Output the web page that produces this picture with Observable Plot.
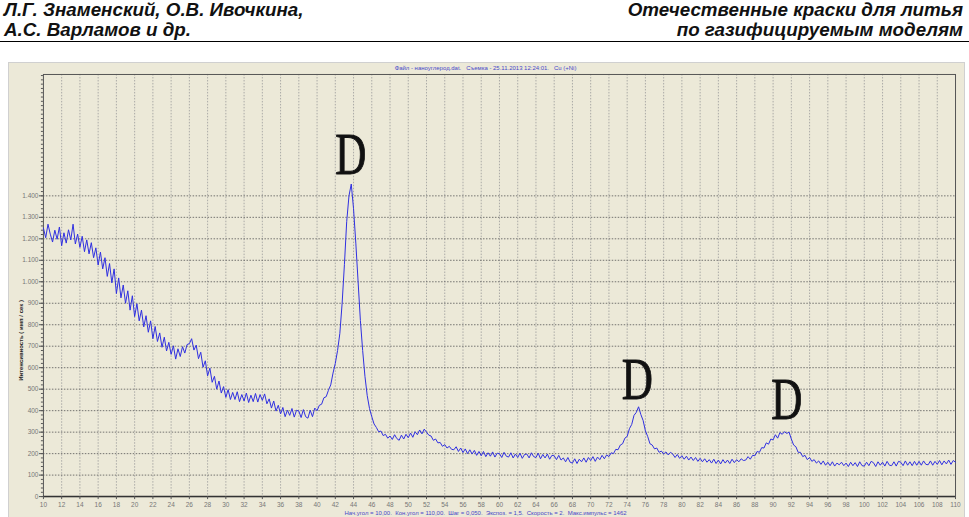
<!DOCTYPE html>
<html>
<head>
<meta charset="utf-8">
<script src="https://cdn.jsdelivr.net/npm/d3@7"></script>
<script src="https://cdn.jsdelivr.net/npm/@observablehq/plot@0.6"></script>
<style>
  html, body { margin: 0; padding: 0; background: #fff; width: 969px; height: 517px; overflow: hidden; position: relative; }
  .hdr { position: absolute; font-family: "Liberation Sans", Arial, sans-serif; font-style: italic; font-weight: bold; font-size: 18.8px; color: #111; line-height: 20px; white-space: nowrap; }
  #rule { position: absolute; left: 0; top: 41px; width: 969px; height: 0; border-top: 1.5px solid #000; }
  #panel { position: absolute; left: 8px; top: 62px; }
</style>
</head>
<body>
<div class="hdr" style="left:4px; top:0px;">Л.Г. Знаменский, О.В. Ивочкина,</div>
<div class="hdr" style="left:4px; top:20px;">А.С. Варламов и др.</div>
<div class="hdr" style="right:6px; top:0px; text-align:right;">Отечественные краски для литья</div>
<div class="hdr" style="right:6px; top:20px; text-align:right;">по газифицируемым моделям</div>
<div id="rule"></div>
<div id="panel"></div>
<script>
// ---- data ----
const startAngle = 10;      // 2θ start, degrees
const stepAngle = 0.25;     // sampling of the transcription
const intensity = [
  1250, 1205, 1268, 1222,  1185, 1240, 1198, 1255,
  1168, 1228, 1180, 1242,  1195, 1268, 1176, 1222,
  1160, 1212, 1140, 1195,  1130, 1182, 1112, 1158,
  1078, 1138, 1060, 1112,  1025, 1085, 995, 1060,
  945, 1018, 925, 985,     900, 958, 868, 935,
  838, 898, 818, 868,      790, 842, 765, 818,
  735, 792, 722, 762,      695, 742, 678, 718,
  662, 702, 640, 688,      652, 698, 668, 708,
  712, 735, 682, 705,      642, 672, 602, 632,
  562, 598, 532, 560,      500, 538, 482, 512,
  462, 498, 452, 485,      452, 488, 442, 475,
  445, 482, 438, 472,      442, 480, 440, 475,
  448, 478, 432, 455,      412, 445, 398, 425,
  385, 415, 372, 402,      378, 410, 370, 402,
  398, 368, 405, 372,      365, 402, 372, 412,
  400, 425, 430, 460,      465, 495, 520, 575,
  620, 680, 760, 900,      1080, 1280, 1400, 1455,
  1340, 1180, 1000, 820,   680, 560, 470, 410,
  372, 338, 322, 302,      305, 284, 290, 272,
  282, 266, 288, 270,      262, 286, 268, 290,
  274, 296, 276, 302,      288, 310, 292, 314,
  300, 286, 282, 262,      268, 250, 252, 234,
  242, 226, 234, 220,      218, 232, 210, 226,
  205, 222, 200, 218,      198, 215, 192, 210,
  190, 210, 186, 204,      188, 208, 184, 202,
  200, 182, 206, 188,      184, 204, 180, 198,
  182, 202, 178, 196,      198, 180, 204, 186,
  182, 202, 176, 196,      180, 198, 174, 192,
  190, 172, 192, 170,      180, 162, 182, 160,
  156, 176, 154, 174,      162, 180, 160, 182,
  168, 186, 164, 184,      172, 192, 176, 194,
  186, 204, 200, 220,      218, 240, 246, 272,
  280, 316, 336, 378,      392, 418, 382, 354,
  306, 280, 246, 240,      222, 226, 206, 212,
  198, 208, 194, 206,      198, 182, 196, 178,
  190, 174, 188, 170,      184, 168, 182, 164,
  178, 162, 176, 160,      172, 156, 174, 154,
  170, 152, 172, 156,      170, 154, 174, 158,
  172, 162, 176, 168,      170, 186, 174, 192,
  190, 210, 206, 228,      226, 250, 244, 268,
  264, 288, 272, 298,      290, 302, 294, 300,
  268, 240, 232, 206,      206, 186, 192, 172,
  182, 164, 172, 156,      166, 150, 166, 146,
  160, 144, 162, 142,      156, 148, 160, 144,
  156, 140, 160, 144,      158, 140, 162, 144,
  142, 160, 144, 164,      158, 140, 162, 146,
  160, 142, 164, 146,      144, 162, 142, 164,
  160, 144, 166, 146,      162, 144, 164, 146,
  164, 146, 166, 150,      148, 166, 146, 164,
  150, 168, 148, 166,      152, 170, 150, 168,
  160
];
const xTicks = [10,12,14,16,18,20,22,24,26,28,30,32,34,36,38,40,42,44,46,48,50,52,54,56,58,60,
                62,64,66,68,70,72,74,76,78,80,82,84,86,88,90,92,94,96,98,100,102,104,106,108,110];
const yTicks = [0,100,200,300,400,500,600,700,800,900,1000,1100,1200,1300,1400];
const yMax = 1965;
const peakLabels = ["D", "D", "D"];
const peakAngles = [43.7, 75.1, 91.5];
const peakLabelLevels = [1503, 455, 362];
const titleText = "Файл - наноуглерод.dat.   Съемка - 25.11.2013 12:24:01.   Cu (+Ni)";
const captionText = "Нач.угол = 10,00.  Кон.угол = 110,00.  Шаг = 0,050.  Экспоз. = 1,5.  Скорость = 2.  Макс.импульс = 1462";
const yLabel = "Интенсивность ( имп / сек )";

// ---- build ----
const pattern = intensity.map((v, i) => ({angle: startAngle + i * stepAngle, value: v}));
const peaks = peakLabels.map((t, i) => ({label: t, angle: peakAngles[i], level: peakLabelLevels[i]}));
const minorY = d3.range(0, yMax, 20);
const fmtY = d => d >= 1000 ? d3.format(",")(d).replace(",", ".") : String(d);

const chart = Plot.plot({
  width: 957,
  height: 455,
  marginLeft: 34,
  marginRight: 9,
  marginTop: 11,
  marginBottom: 21,
  style: {background: "#ece9d8", fontFamily: "'Liberation Sans', Arial, sans-serif", color: "#555", overflow: "visible"},
  x: {domain: [10, 110], label: null},
  y: {domain: [0, yMax], label: null},
  marks: [
    Plot.gridX(xTicks.slice(1, -1), {stroke: "#9a9a9a", strokeOpacity: 1, strokeDasharray: "1.5,1.5", strokeWidth: 0.8}),
    Plot.gridY(yTicks.slice(1), {stroke: "#555", strokeOpacity: 1, strokeDasharray: "1.5,1.5", strokeWidth: 0.8}),
    Plot.frame({stroke: "#555", strokeWidth: 1}),
    Plot.ruleY([0], {stroke: "#333", strokeWidth: 1.5}),
    Plot.axisY(minorY, {tickSize: 2, tickFormat: () => "", stroke: "#555"}),
    Plot.axisY(yTicks, {tickSize: 4, tickPadding: 1, tickFormat: fmtY, fontSize: 6.5, fill: "#777", stroke: "#555"}),
    Plot.axisX(xTicks, {tickSize: 3, tickPadding: 3, tickFormat: d => String(d), fontSize: 6.5, fill: "#777", stroke: "#555"}),
    Plot.line(pattern, {x: "angle", y: "value", stroke: "#2f2fe0", strokeWidth: 1}),
    Plot.text(peaks, {x: "angle", y: "level", text: "label", fontFamily: "'Liberation Serif', 'Times New Roman', serif",
                      fontSize: 60, fill: "#111", stroke: "#111", strokeWidth: 1, textAnchor: "middle", lineAnchor: "bottom"}),
    Plot.text([titleText], {frameAnchor: "top", dx: -14, dy: -9, fontSize: 6, fill: "#4848c8"}),
    Plot.text([captionText], {frameAnchor: "bottom", dx: -14, dy: 18, fontSize: 6, fill: "#4848c8"}),
    Plot.text([yLabel], {frameAnchor: "left", textAnchor: "middle", dx: -22, dy: 55, rotate: -90, fontSize: 6, fontWeight: "bold", fill: "#222"})
  ]
});

chart.style.border = "1px solid #d0d0d0";
chart.style.boxSizing = "border-box";
document.getElementById("panel").appendChild(chart);

// narrow the serif "D" peak markers horizontally to match the condensed letterforms
d3.select(chart).selectAll("text").filter(function() { return this.textContent === "D"; }).each(function() {
  const x = +this.getAttribute("x") || 0, y = +this.getAttribute("y") || 0;
  const t = this.getAttribute("transform") || "";
  this.setAttribute("transform", `${t} translate(${x},${y}) scale(0.72,1) translate(${-x},${-y})`);
});
</script>
</body>
</html>
